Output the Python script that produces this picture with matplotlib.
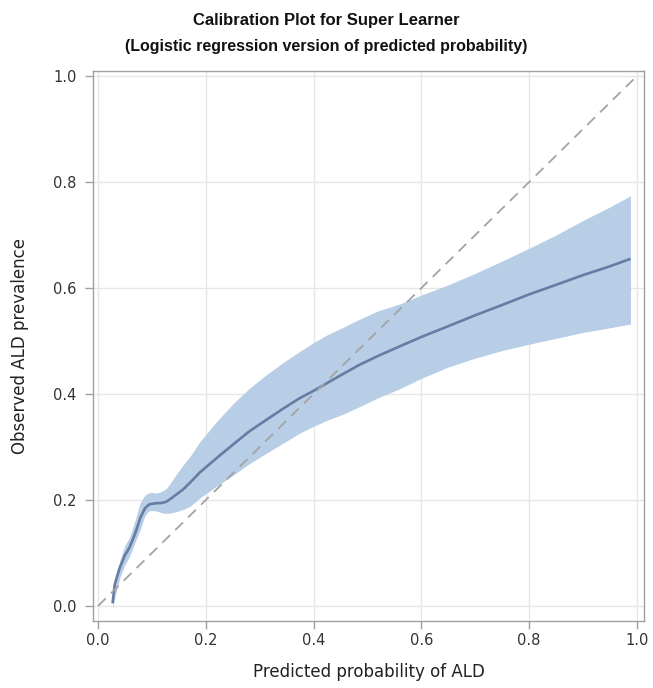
import matplotlib
matplotlib.use("Agg")
import matplotlib.pyplot as plt

plt.rcParams['font.family'] = ['DejaVu Sans']

# Data
pred = [0.027, 0.031, 0.036, 0.041, 0.046, 0.050, 0.055, 0.059, 0.064, 0.069,
        0.074, 0.078, 0.083, 0.087, 0.092, 0.096,
        0.102, 0.109, 0.115, 0.121, 0.127, 0.133,
        0.145, 0.158, 0.172, 0.189,
        0.220, 0.251, 0.280, 0.312, 0.343, 0.374,
        0.400, 0.424, 0.455, 0.485, 0.520, 0.560,
        0.601, 0.650, 0.701, 0.750, 0.800, 0.850, 0.899, 0.950, 0.988]
observed = [0.005, 0.040, 0.058, 0.074, 0.086, 0.096, 0.104, 0.112, 0.124, 0.137,
            0.152, 0.165, 0.176, 0.184, 0.189, 0.192,
            0.193, 0.194, 0.194, 0.195, 0.197, 0.201,
            0.210, 0.220, 0.234, 0.252,
            0.279, 0.305, 0.329, 0.351, 0.372, 0.392,
            0.406, 0.420, 0.438, 0.455, 0.472, 0.490,
            0.508, 0.528, 0.549, 0.568, 0.588, 0.606, 0.624, 0.641, 0.655]
upper = [0.010, 0.045, 0.065, 0.087, 0.103, 0.115, 0.123, 0.131, 0.146, 0.162,
         0.180, 0.194, 0.203, 0.209, 0.212, 0.214,
         0.214, 0.213, 0.215, 0.218, 0.222, 0.230,
         0.248, 0.266, 0.284, 0.310,
         0.348, 0.382, 0.410, 0.436, 0.459, 0.480,
         0.497, 0.511, 0.526, 0.541, 0.557, 0.570,
         0.587, 0.606, 0.628, 0.651, 0.675, 0.700, 0.727, 0.753, 0.774]
lower = [-0.004, 0.015, 0.035, 0.055, 0.068, 0.078, 0.087, 0.095, 0.107, 0.121,
         0.133, 0.143, 0.158, 0.170, 0.177, 0.180,
         0.180, 0.179, 0.177, 0.175, 0.175, 0.175,
         0.178, 0.182, 0.189, 0.204,
         0.226, 0.247, 0.268, 0.288, 0.307, 0.326,
         0.339, 0.350, 0.362, 0.376, 0.393, 0.410,
         0.430, 0.451, 0.468, 0.482, 0.494, 0.505, 0.516, 0.525, 0.532]
ticks = [0.0, 0.2, 0.4, 0.6, 0.8, 1.0]
tick_labels = ["0.0", "0.2", "0.4", "0.6", "0.8", "1.0"]

fig = plt.figure(figsize=(6.53, 6.88), dpi=100)
ax = fig.add_axes([0.1424, 0.0974, 0.8438, 0.7994])

ax.fill_between(pred, lower, upper, color='#b8cde6', linewidth=0, zorder=2)
ax.plot(pred, observed, color='#667ca3', linewidth=1.9, zorder=3,
        solid_capstyle='butt', solid_joinstyle='round')
ax.plot([0, 1], [0, 1], color='#a3a3a3', linewidth=1.3, linestyle=(0, (6, 4)),
        zorder=4)

ax.set_xlim(-0.0093, 1.013)
ax.set_ylim(-0.0283, 1.0094)
ax.set_xticks(ticks)
ax.set_xticklabels(tick_labels)
ax.set_yticks(ticks)
ax.set_yticklabels(tick_labels)
ax.grid(True, color='#e6e6e6', linewidth=1.0, zorder=0)
ax.set_axisbelow(True)
for s in ax.spines.values():
    s.set_color('#a0a0a0')
    s.set_linewidth(1.0)
ax.tick_params(axis='both', colors='#a0a0a0', labelcolor='#333333',
               labelsize=10.5, length=6, width=1.0)
ax.tick_params(axis='y', pad=6)
ax.tick_params(axis='x', pad=2.5)

ax.set_xlabel("Predicted probability of ALD", fontsize=12, color='#222222')
ax.set_ylabel("Observed ALD prevalence", fontsize=12, color='#222222')
ax.xaxis.set_label_coords(0.5, -0.076)
ax.yaxis.set_label_coords(-0.117, 0.5)

fig.text(0.5, 0.970, "Calibration Plot for Super Learner", ha='center',
         va='center', fontsize=12, fontweight='bold', color='#111111',
         family='Liberation Sans')
fig.text(0.5, 0.932, "(Logistic regression version of predicted probability)",
         ha='center', va='center', fontsize=11.5, fontweight='bold',
         color='#111111', family='Liberation Sans')

fig.savefig("out.png", dpi=100)
